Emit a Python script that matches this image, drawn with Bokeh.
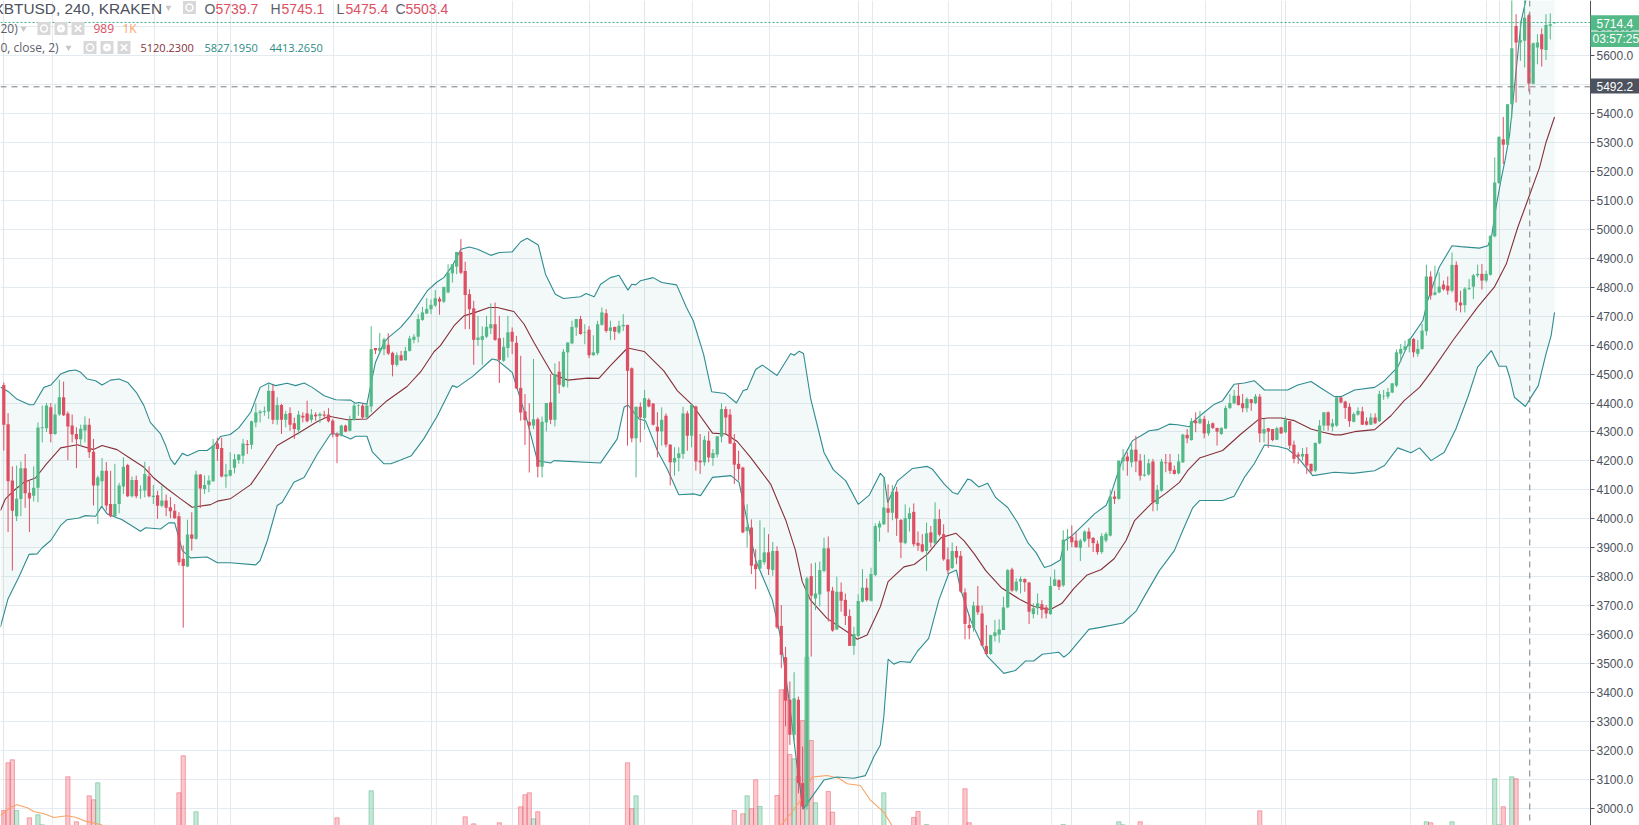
from bokeh.plotting import figure
from bokeh.core.properties import value
from bokeh.models import Range1d, FixedTicker, Grid, BoxAnnotation, NumeralTickFormatter, LinearAxis
from bokeh.embed import file_html
from bokeh.resources import INLINE

opens = [
4462,4327,4132,4009,4068,4175,4090,4080,4107,4313,
4313,4385,4293,4360,4420,4364,4322,4293,4275,4305,
4325,4232,4115,4130,4166,4051,4009,4051,4112,4186,
4078,4134,4098,4098,4147,4075,4081,4045,4063,4040,
4028,4009,3862,3835,3946,3931,4153,4103,4118,4130,
4260,4245,4146,4149,4176,4203,4218,4258,4256,4333,
4365,4369,4371,4442,4342,4393,4342,4365,4330,4307,
4356,4364,4342,4360,4356,4360,4360,4339,4293,4287,
4322,4304,4341,4391,4391,4350,4388,4590,4580,4586,
4601,4573,4532,4565,4548,4580,4618,4629,4687,4709,
4724,4737,4760,4750,4782,4848,4871,4922,4856,4776,
4727,4618,4618,4629,4658,4672,4624,4546,4590,4646,
4608,4452,4371,4335,4322,4344,4180,4333,4402,4342,
4508,4457,4575,4606,4661,4690,4642,4653,4565,4572,
4670,4710,4649,4663,4644,4665,4670,4520,4278,4387,
4348,4411,4398,4318,4302,4356,4256,4195,4210,4224,
4364,4287,4388,4201,4195,4270,4210,4222,4284,4379,
4360,4262,4190,4177,3958,3970,3843,3828,3850,3884,
3823,3889,3630,3522,3375,3254,3375,3087,3007,3802,
3725,3739,3820,3898,3752,3618,3748,3720,3664,3561,
3595,3714,3762,3717,3806,3970,3981,4036,4021,4094,
3996,3916,3999,4024,3917,3912,3889,3953,3915,3999,
3947,3860,3830,3889,3872,3746,3633,3624,3700,3673,
3561,3533,3595,3600,3616,3694,3825,3752,3783,3792,
3780,3671,3691,3705,3694,3671,3768,3788,3770,3936,
3938,3925,3900,3923,3956,3934,3914,3885,3925,3942,
4077,4069,4198,4215,4195,4239,4201,4149,4153,4198,
4051,4097,4195,4195,4169,4157,4195,4290,4272,4339,
4330,4345,4295,4330,4314,4293,4312,4383,4399,4425,
4399,4382,4413,4400,4422,4295,4313,4310,4273,4316,
4299,4337,4256,4222,4215,4224,4190,4166,4261,4322,
4368,4318,4322,4419,4405,4387,4335,4360,4371,4337,
4325,4350,4337,4423,4422,4436,4460,4570,4583,4596,
4621,4570,4587,4648,4837,4774,4782,4809,4805,4788,
4877,4747,4738,4794,4802,4841,4846,4823,4843,4976,
5160,5311,5292,5432,5702,5645,5651,5739.7,5503,5628,
5674,5619,5703,5712]

highs = [
4471,4365,4181,4184,4198,4224,4134,4181,4333,4391,
4400,4400,4396,4480,4474,4371,4360,4316,4325,4354,
4347,4276,4149,4210,4196,4166,4190,4124,4212,4190,
4146,4149,4115,4197,4181,4117,4097,4115,4084,4075,
4051,4023,3908,3997,4023,4166,4155,4150,4150,4276,
4280,4280,4190,4230,4224,4222,4276,4272,4339,4399,
4376,4388,4465,4463,4420,4397,4373,4385,4350,4373,
4368,4408,4379,4368,4368,4373,4382,4345,4299,4325,
4325,4356,4402,4396,4399,4399,4665,4590,4642,4626,
4641,4577,4575,4580,4594,4632,4638,4707,4732,4762,
4758,4790,4767,4801,4879,4880,4922,4966,4888,4793,
4753,4701,4665,4701,4744,4747,4701,4626,4701,4661,
4632,4563,4431,4399,4552,4350,4353,4399,4500,4537,
4544,4586,4609,4684,4690,4701,4672,4666,4634,4684,
4730,4724,4684,4663,4684,4707,4670,4523,4387,4402,
4445,4417,4400,4368,4385,4364,4258,4247,4247,4387,
4373,4396,4391,4293,4287,4302,4241,4285,4399,4388,
4379,4293,4235,4180,4050,3998,3895,3995,3970,3947,
3920,3905,3702,3558,3438,3470,3386,3213,3800,3846,
3849,3852,3935,3939,3765,3800,3780,3742,3687,3627,
3739,3826,3794,3831,3984,3993,4142,4119,4117,4110,
3999,4050,4039,4053,3956,3947,3987,3975,4057,4033,
3981,3901,3918,3906,3889,3760,3668,3714,3768,3700,
3633,3599,3651,3653,3731,3826,3831,3794,3800,3794,
3782,3708,3742,3719,3702,3800,3825,3791,3960,3965,
3977,3954,3931,3960,3969,3937,3925,3950,3954,4100,
4097,4201,4241,4230,4258,4287,4224,4222,4207,4207,
4117,4207,4224,4224,4184,4224,4293,4310,4348,4368,
4373,4356,4339,4333,4314,4316,4391,4431,4445,4468,
4431,4420,4414,4431,4431,4345,4314,4310,4318,4318,
4354,4337,4270,4230,4245,4247,4190,4264,4341,4368,
4371,4345,4422,4422,4408,4399,4368,4385,4387,4350,
4364,4364,4442,4445,4452,4469,4585,4604,4616,4625,
4625,4618,4673,4878,4855,4874,4851,4823,4837,4920,
4889,4788,4800,4828,4846,4878,4880,4857,4978,5248,
5320,5388,5432,5800,5743,5720,5800,5745.1,5645,5674,
5694,5743,5746,5716]

lows = [
4236,3954,3821,3992,4009,4038,3954,4060,4057,4264,
4300,4264,4290,4356,4355,4203,4264,4175,4253,4264,
4210,4046,3982,4040,4028,4005,4005,4019,4086,4075,
4074,4071,4069,4074,4074,4051,4000,4040,4009,4002,
4000,3839,3624,3833,3890,3928,4037,4086,4092,4128,
4200,4143,4107,4146,4157,4190,4190,4224,4241,4316,
4333,4356,4345,4327,4325,4293,4316,4304,4276,4291,
4333,4333,4333,4339,4331,4345,4333,4281,4192,4284,
4299,4302,4339,4356,4345,4345,4368,4569,4569,4565,
4566,4492,4526,4546,4546,4578,4606,4609,4684,4707,
4707,4732,4705,4745,4779,4816,4845,4845,4655,4655,
4532,4598,4532,4624,4638,4615,4469,4542,4557,4569,
4448,4339,4255,4160,4310,4143,4143,4302,4327,4319,
4433,4454,4454,4603,4632,4636,4603,4555,4563,4565,
4667,4643,4617,4618,4638,4649,4253,4264,4143,4264,
4308,4385,4322,4212,4253,4247,4115,4149,4164,4207,
4235,4247,4166,4155,4183,4195,4183,4212,4264,4293,
4258,4120,4132,3950,3901,3809,3757,3826,3841,3806,
3803,3620,3484,3283,3219,3231,3052,2997,2995,3524,
3685,3697,3815,3645,3610,3616,3679,3633,3561,3530,
3590,3711,3714,3714,3802,3921,3979,3953,3995,3941,
3864,3912,3956,3904,3889,3884,3820,3901,3910,3939,
3855,3809,3826,3843,3745,3584,3584,3610,3668,3562,
3530,3530,3576,3572,3616,3691,3748,3748,3742,3748,
3637,3656,3668,3656,3656,3668,3768,3754,3765,3890,
3902,3900,3854,3919,3902,3885,3876,3879,3919,3939,
4051,4066,4167,4149,4178,4161,4132,4146,4149,4026,
4028,4094,4161,4155,4153,4153,4193,4261,4270,4299,
4327,4278,4287,4310,4253,4290,4310,4379,4396,4391,
4368,4368,4373,4396,4264,4264,4245,4268,4272,4293,
4296,4241,4192,4190,4201,4155,4157,4161,4258,4304,
4304,4302,4318,4399,4345,4318,4333,4356,4324,4322,
4324,4327,4335,4411,4414,4434,4455,4541,4581,4575,
4558,4560,4584,4633,4757,4771,4779,4788,4774,4782,
4719,4713,4713,4790,4759,4834,4792,4817,4840,4972,
5156,5225,5288,5384,5438,5582,5559,5475.4,5501,5570,
5562,5585,5656,5711]

closes = [
4325,4130,4028,4069,4175,4088,4070,4107,4315,4316,
4391,4293,4360,4420,4358,4319,4291,4275,4311,4325,
4230,4115,4143,4166,4046,4009,4051,4115,4180,4078,
4134,4078,4100,4155,4078,4080,4045,4063,4038,4026,
4002,3850,3837,3946,3931,4153,4105,4117,4132,4253,
4241,4146,4153,4169,4206,4222,4260,4255,4337,4367,
4370,4372,4442,4342,4393,4342,4362,4325,4310,4360,
4350,4337,4360,4354,4362,4356,4337,4293,4284,4322,
4301,4341,4391,4393,4350,4391,4586,4582,4590,4620,
4571,4532,4565,4547,4580,4623,4629,4690,4713,4725,
4739,4762,4750,4801,4850,4879,4922,4850,4773,4724,
4618,4626,4631,4663,4672,4618,4549,4594,4644,4612,
4450,4367,4341,4322,4344,4180,4335,4400,4342,4500,
4463,4577,4609,4663,4690,4638,4644,4565,4575,4672,
4713,4649,4661,4646,4667,4670,4511,4278,4387,4350,
4417,4388,4325,4302,4342,4256,4195,4210,4226,4364,
4287,4393,4198,4195,4273,4212,4227,4285,4379,4350,
4260,4187,4172,3953,3972,3838,3826,3858,3884,3826,
3889,3625,3530,3372,3254,3380,3087,3006,3794,3734,
3742,3823,3898,3749,3614,3748,3717,3664,3561,3602,
3716,3762,3719,3809,3975,3984,4039,4021,4094,4001,
3918,4002,4019,3912,3907,3887,3950,3918,3999,3945,
3860,3822,3889,3866,3749,3637,3622,3700,3677,3562,
3533,3598,3608,3618,3694,3823,3752,3783,3792,3780,
3679,3691,3708,3685,3673,3768,3791,3765,3928,3938,
3919,3902,3925,3956,3931,3916,3885,3940,3948,4077,
4069,4201,4212,4199,4239,4198,4149,4153,4192,4057,
4100,4198,4192,4166,4155,4198,4291,4278,4337,4330,
4345,4295,4327,4314,4301,4314,4383,4400,4425,4393,
4382,4414,4400,4423,4295,4310,4301,4272,4313,4295,
4341,4253,4207,4215,4224,4184,4164,4262,4322,4368,
4322,4330,4419,4402,4383,4337,4362,4373,4325,4325,
4350,4330,4431,4425,4438,4468,4575,4587,4596,4621,
4575,4587,4650,4837,4771,4782,4802,4793,4788,4877,
4748,4737,4795,4797,4841,4846,4823,4846,4978,5162,
5320,5292,5432,5625,5645,5653,5731,5503.4,5643,5645,
5622,5706,5708,5714.4]

upper_i = [-0.8,1,3,6,7,9.4,11,13.3,15.2,16.8,18,19.5,21.5,23,25,27,29,31,32.8,34.3,36.7,37.9,39,40,41.8,43,45.7,47.6,49.2,50.7,53,55,57.8,60,62,63.6,66.3,68.3,70.3,72.2,75,77.7,81.2,82.3,83.1,85,86,87,89,90,92.9,95.2,99.1,101.4,103,105,107,109,110.9,114,116,119,121,122.5,125.1,126.8,129.1,131,135,136.3,138.2,139.7,142,144,146.1,147,147.9,149,152,154,157.5,159.8,161.4,163.8,165.7,168.8,171.5,173.1,174,176,177.6,181,184.2,185,186.2,187.2,188.9,192,194.2,197.1,200,202.6,205.2,206.1,206.9,209.2,212.7,216.2,217.4,220.2,222.1,223.3,225.6,226.4,228.2,230.3,232.2,235,237.3,239.7,241.6,243.6,245.1,247.3,248.3,250,253.3,255.3,258,259.2,260.7,261.9,264.2,266.2,268.1,270.1,272.8,274.8,277.5,278.7,281,283.4,285.3,288,290.4,292.7,295.1,300.5,302.9,306,308.4,311.5,313,316.2,320.9,323.2,326.3,329.4,332.2,333.3,336,339,341,345.4,347.4,348.3,349.3,350.5,351.4,352.5,353.6,355.2,356.4,357.2,360,363]
upper_v = [4455,4440,4414,4394,4394,4454,4462,4500,4511,4514,4506,4483,4477,4462,4479,4483,4471,4437,4391,4333,4293,4253,4207,4187,4226,4218,4236,4236,4253,4284,4291,4314,4368,4454,4469,4460,4468,4460,4469,4454,4425,4411,4410,4399,4402,4396,4470,4540,4609,4626,4661,4701,4787,4818,4833,4874,4931,4939,4931,4910,4920,4922,4957,4969,4946,4845,4776,4761,4767,4778,4767,4810,4833,4841,4790,4810,4808,4822,4833,4816,4808,4730,4684,4569,4439,4433,4400,4443,4447,4516,4531,4495,4571,4565,4579,4571,4413,4229,4169,4131,4050,4082,4157,4142,4056,4131,4174,4181,4171,4119,4091,4085,4137,4134,4110,4123,4073,4039,3987,3918,3884,3832,3839,3858,3924,3941,3988,4017,4046,4086,4155,4207,4270,4287,4304,4308,4327,4325,4318,4339,4368,4396,4408,4465,4469,4477,4445,4445,4462,4474,4451,4422,4422,4445,4454,4477,4524,4625,4685,4754,4869,4943,4940,4935,4943,4978,5076,5173,5237,5329,5490,5720,5800,5827.2,5860,5850]

lower_i = [-0.8,1,3.5,5.9,7.8,9,11,13.3,14.8,17.6,19.1,21.5,22.9,24.2,26.2,27.7,32,33.2,36.7,38.6,40,40.6,41.8,43.7,47.6,50,53,59,60,61.7,64,65.2,67.9,70.3,73.4,76.5,78.5,81.2,82.4,85,86.3,89,90.6,92.9,95.4,98.3,101.5,105,106.1,109.7,114.3,115.5,119,122.5,124.9,128,128.8,139.7,143.6,145.2,146.1,148.7,150.2,153,155.3,158,161.6,163.1,165.9,170.2,172.1,173,176,179.9,181.8,183.8,185.7,187.1,192,195,199,201.7,203.7,205.2,206,207,208.3,209.9,212.2,213.8,216.5,218.9,221.2,223,223.9,226.3,230.2,234.1,236.8,239.2,241.1,243.1,247,248.1,249.3,254,256.7,262,265,267,270.5,274,276.3,278.3,279.9,285.3,288,290.4,292.7,295.1,298.2,300.5,302.9,306.4,311.5,315.8,320.9,323.2,326.3,329.4,331.4,334.1,337.2,339.9,342.7,345,348.2,350,351.7,352.5,353.6,356.2,357.2,359.2,361,362.2,363]
lower_v = [3626,3724,3798,3877,3879,3900,3925,3977,3997,4003,4011,4009,4043,4017,4005,3997,3957,3969,3965,3986,3986,3954,3890,3865,3868,3848,3848,3841,3856,3925,4046,4057,4126,4143,4224,4293,4293,4276,4285,4285,4230,4190,4190,4203,4218,4276,4356,4460,4454,4491,4552,4548,4506,4339,4201,4193,4201,4193,4276,4385,4393,4345,4339,4235,4172,4083,4086,4080,4143,4149,4126,4063,3857,3720,3593,3375,3145,2997,3098,3108,3104,3113,3179,3219,3317,3515,3498,3507,3504,3541,3587,3720,3811,3823,3760,3650,3526,3466,3476,3509,3509,3532,3539,3522,3535,3618,3625,3640,3680,3732,3821,3890,3971,4038,4063,4063,4078,4143,4190,4255,4250,4241,4212,4149,4161,4157,4166,4184,4245,4228,4245,4201,4230,4310,4420,4524,4581,4527,4527,4489,4420,4388,4413.3,4460,4570,4633,4713]

basis_i = [-0.8,0.4,2.3,4.7,7.4,10,13.3,17.2,21,23,26.5,29.3,32.8,35.1,38.3,41.4,44.1,48.4,50,53,57.8,60.9,64,69.5,73.4,76.1,80.4,85,89.7,94.4,97.6,100.7,102.2,105.4,107.7,110.4,113.6,115.5,119.4,121.8,124.1,128.4,132,136.6,139.3,142,146,149.9,154.5,157.7,161.2,165.9,169,171.7,174.8,179.5,183.1,185.3,186.9,188.8,192.7,197.4,199.8,202.1,205.2,207,210.7,213.1,216.2,219.4,222.9,224.8,227.2,229.9,233.5,238,241.1,245,247.7,250.5,253.6,256.8,259.9,262.7,264.7,268.5,272,275.2,277.1,279.9,285.3,289.6,293.9,295.9,299,302.1,306,308.8,311.5,313,316.2,320.9,324.7,327.8,331.4,334,339.2,345,348.9,351.7,354.4,357.2,359.5,361,363]
basis_v = [4028,4069,4097,4126,4141,4190,4245,4256,4239,4253,4239,4212,4178,4141,4103,4069,4040,4049,4061,4069,4118,4184,4253,4301,4336,4354,4342,4345,4408,4457,4508,4577,4598,4667,4701,4713,4730,4730,4716,4672,4609,4500,4479,4486,4485,4529,4590,4578,4511,4442,4393,4296,4293,4267,4212,4120,3993,3892,3783,3720,3656,3610,3584,3599,3697,3783,3834,3842,3878,3935,3950,3924,3878,3820,3762,3720,3697,3687,3708,3760,3806,3824,3862,3925,3994,4051,4088,4126,4166,4210,4236,4293,4345,4348,4348,4339,4310,4299,4290,4290,4301,4308,4356,4408,4454,4505,4616,4731,4800,4880,5007,5120.2,5214,5300,5388]

vol_i = [0,1,2,3,6,8,9,15,17,20,21,22,41,42,45,78,86,108,110,116,121,122,123,124,125,146,147,148,171,173,174,175,176,177,181,182,183,184,185,186,187,188,189,190,193,194,206,213,214,216,225,226,248,261,262,266,294,333,334,339,349,350,351,353,354]
vol_v = [1286,1967,2010,1286,1181,1224,1081,1767,1124,1495,1438,1681,1538,2067,1267,1181,1567,1195,1095,1110,1338,1510,1538,1167,1267,1967,1310,1495,1286,1238,1495,1310,1724,1343,1500,3010,3014,2086,2024,1771,2571,3476,2286,1396,1557,1261,1538,1186,1271,1086,1596,1110,1086,1124,1081,1124,1281,1124,1110,1124,1739,1081,1339,1767,1739]
volma_i = [-0.8,1.6,3.1,5.5,7,9.4,11.7,14.8,16.8,19.1,22.6,23.8,60,120,181.8,184.2,186.5,189.2,192.7,195.5,197.4,200.5,202.9,206,207.9,260,363]
volma_v = [1214,1329,1367,1324,1271,1239,1186,1210,1190,1133,1086,1057,900,950,1071,1239,1429,1762,1786,1747,1667,1643,1429,1262,1071,950,1000]

price_ticks = list(range(3000, 5900, 100))
time_ticks = [11.33,35.3,53.15,77.2,101.2,119.1,137.2,161.3,179.3,203.3,221.2,245.3,263.4,281.2,299.1,329.3,347.1]
last_price = 5714.4
cross_price = 5492.2
cross_bar = 357.2

GREEN = "#53B987"
RED = "#DD5063"
GRID = "#E4EBF0"
TEAL = "#2F8C90"
MAROON = "#86303A"
AXIS = "#50535E"
LABEL = "#4C525E"


def X(px):
    return (px - 3.3) / 4.272


def Y(py):
    return 5400 - (py - 113) * 3.4542


p = figure(width=1639, height=825, frame_width=1639, frame_height=825,
           x_range=Range1d(X(0), X(1639)), y_range=Range1d(Y(825), Y(0)),
           x_axis_location=None, y_axis_location=None,
           output_backend="svg", toolbar_location=None, min_border=0,
           outline_line_color=None, background_fill_color="white",
           styles={"position": "absolute", "left": "0px", "top": "0px"})
p.extra_y_ranges = {"vol": Range1d(1071, 12857)}

p.add_layout(Grid(dimension=1, ticker=FixedTicker(ticks=price_ticks), grid_line_color=GRID, grid_line_width=1))
p.add_layout(Grid(dimension=0, ticker=FixedTicker(ticks=time_ticks), grid_line_color=GRID, grid_line_width=1))

# Price scale background: hides the grid on the right of the axis
p.add_layout(BoxAnnotation(left=X(1590), right=X(1639), top=Y(0), bottom=Y(825), fill_color="white", fill_alpha=1,
                           line_color=None, level="underlay"))

# Bollinger band fill
p.patch(upper_i + lower_i[::-1], upper_v + lower_v[::-1], fill_color="#1E8A8A", fill_alpha=0.055, line_color=None)

# Volume
vol_col = [GREEN if closes[i] >= opens[i] else "#EF5B6C" for i in vol_i]
p.vbar(x=vol_i, top=vol_v, bottom=0, width=1.0, y_range_name="vol",
       fill_color=vol_col, fill_alpha=0.34, line_color=vol_col, line_alpha=0.5, line_width=1)
p.line(volma_i, volma_v, y_range_name="vol", line_color="#F7A468", line_width=1.1)

# Indicator lines
p.line(upper_i, upper_v, line_color=TEAL, line_width=1.1)
p.line(lower_i, lower_v, line_color=TEAL, line_width=1.1)
p.line(basis_i, basis_v, line_color=MAROON, line_width=1.1)

# Candles
bars = list(range(len(opens)))
cols = [GREEN if c >= o else RED for o, c in zip(opens, closes)]
p.segment(bars, highs, bars, lows, line_color=cols, line_width=1)
p.vbar(x=bars, top=[max(o, c) for o, c in zip(opens, closes)], bottom=[min(o, c) for o, c in zip(opens, closes)],
       width=0.76, fill_color=cols, line_color=None)

# Price lines and crosshair
p.line([X(0), X(1590)], [last_price, last_price], line_color="#3FAA80", line_width=1, line_dash=[2, 2])
p.line([X(0), X(1590)], [cross_price, cross_price], line_color="#7C7C7C", line_width=1, line_dash=[6, 5])
p.line([cross_bar, cross_bar], [Y(0), Y(825)], line_color="#7C7C7C", line_width=1, line_dash=[6, 5])

ax = LinearAxis(fixed_location=X(1590), ticker=FixedTicker(ticks=price_ticks),
                formatter=NumeralTickFormatter(format="0.0"))
ax.axis_line_color = AXIS
ax.major_tick_line_color = AXIS
ax.minor_tick_line_color = None
ax.major_tick_out = 4
ax.major_tick_in = 0
ax.major_label_standoff = 2
ax.major_label_text_font = "Liberation Sans"
ax.major_label_text_font_size = "12px"
ax.major_label_text_color = LABEL
p.add_layout(ax, "right")


def box(x0, x1, y0, y1, col):
    p.quad(left=[X(x0)], right=[X(x1)], top=[Y(y0)], bottom=[Y(y1)], fill_color=col, line_color=None, level="overlay")


def txt(x, y, s, col, size=12, font="Liberation Sans", align="left"):
    p.text(x=[X(x)], y=[Y(y)], text=[s], text_color=col, text_font=value(font), text_font_size=f"{size}px",
           text_baseline="middle", text_align=align, level="overlay")


# Price tags
box(1590, 1639, 14.7, 30, GREEN)
box(1590, 1639, 31, 46.5, GREEN)
box(1590, 1639, 78, 93, LABEL)
txt(1596, 22.5, "5714.4", "white")
txt(1592, 38.9, "03:57:25", "white")
txt(1596, 85.8, "5492.2", "white")

# Legend texts
txt(-7, 8, "XBTUSD, 240, KRAKEN", LABEL, 15.4)
txt(204, 8, "O", "#5D606B", 14)
txt(215, 8, "5739.7", RED, 14)
txt(270, 8, "H", "#5D606B", 14)
txt(281, 8, "5745.1", RED, 14)
txt(336, 8, "L", "#5D606B", 14)
txt(345, 8, "5475.4", RED, 14)
txt(395, 8, "C", "#5D606B", 14)
txt(405, 8, "5503.4", RED, 14)
txt(0, 28, "20)", "#5D606B", 12, "Open Sans")
txt(93, 28, "989", RED, 12, "Open Sans")
txt(122, 28, "1K", "#F7A468", 12, "Open Sans")
txt(0, 47, "0, close, 2)", "#5D606B", 12, "Open Sans")
txt(140, 47, "5120.2300", MAROON, 11, "Open Sans")
txt(204, 47, "5827.1950", "#2A8A86", 11, "Open Sans")
txt(269, 47, "4413.2650", "#2A8A86", 11, "Open Sans")

# Legend buttons
button_x, button_y = [X(189)], [Y(7)]
eye_x, eye_y, gear_x, gear_y, cross_x, cross_y, caret_x, caret_y = [X(189)], [Y(7)], [], [], [], [], [], []
for x0, y0 in [(37, 28), (83, 47)]:
    for dx in (6.5, 23.5, 40.5):
        button_x.append(X(x0 + dx))
        button_y.append(Y(y0))
    eye_x.append(X(x0 + 6.5)); eye_y.append(Y(y0))
    gear_x.append(X(x0 + 23.5)); gear_y.append(Y(y0))
    cross_x.append(X(x0 + 40.5)); cross_y.append(Y(y0))
for x0, y0 in [(168, 7), (23, 28), (68, 47)]:
    caret_x.append(X(x0)); caret_y.append(Y(y0))
p.scatter(button_x, button_y, marker="square", size=13, fill_color="#D8D8D8", line_color=None, level="overlay")
p.scatter(caret_x, caret_y, marker="inverted_triangle", size=6, fill_color="#C4C6CC", line_color=None, level="overlay")
p.scatter(eye_x, eye_y, marker="circle", size=7, fill_color="#D8D8D8", line_color="white", line_width=1.5, level="overlay")
p.scatter(gear_x, gear_y, marker="circle", size=5, fill_color="#D8D8D8", line_color="white", line_width=3, level="overlay")
p.scatter(cross_x, cross_y, marker="x", size=9, line_color="white", line_width=1.6, level="overlay")

assert len(opens) == len(highs) == len(lows) == len(closes) == 364
assert len(upper_i) == len(upper_v) and len(lower_i) == len(lower_v) and len(basis_i) == len(basis_v)
assert len(vol_i) == len(vol_v) and len(volma_i) == len(volma_v)

open("out.html", "w").write(file_html(p, INLINE))
